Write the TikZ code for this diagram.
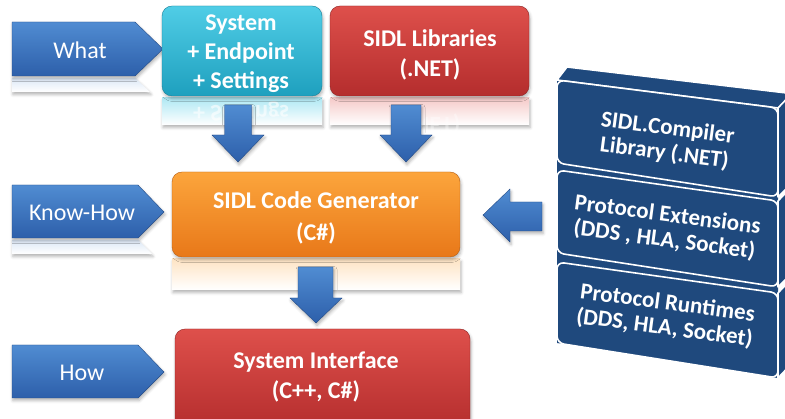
\documentclass[tikz,border=0pt]{standalone}
\usepackage{fontspec}
\setmainfont{Carlito}
\usetikzlibrary{shadows.blur}
\definecolor{navy}{RGB}{31,73,125}
\definecolor{arrowtop}{RGB}{80,140,210}
\definecolor{arrowbot}{RGB}{45,95,170}
\definecolor{cyantop}{RGB}{80,205,230}
\definecolor{cyanbot}{RGB}{30,160,190}
\definecolor{redtop}{RGB}{222,80,75}
\definecolor{redbot}{RGB}{180,45,45}
\definecolor{orangetop}{RGB}{252,165,60}
\definecolor{orangebot}{RGB}{232,120,25}
\tikzset{
  x=1pt, y=-1pt,
  shade/.style={blur shadow={shadow xshift=1pt, shadow yshift=-2.5pt, shadow blur radius=3pt, shadow opacity=30}},
  bluearrow/.style={top color=arrowtop, bottom color=arrowbot, draw=arrowbot!80!black, line width=0.4pt, shade},
  tag/.style={font=\fontsize{24}{28}\selectfont, text=white},
  boxtext/.style={font=\bfseries\fontsize{24}{30}\selectfont, text=white, align=center},
  cyanbox/.style={rounded corners=10pt, top color=cyantop, bottom color=cyanbot, draw=cyanbot!80!black, line width=0.4pt, shade},
  redbox/.style={rounded corners=10pt, top color=redtop, bottom color=redbot, draw=redbot!80!black, line width=0.4pt, shade},
  orangebox/.style={rounded corners=10pt, top color=orangetop, bottom color=orangebot, draw=orangebot!80!black, line width=0.4pt, shade},
  mirror/.style={yscale=-1, opacity=0.6},
  block/.style={fill=navy, draw=white, line width=1.6pt, line join=round},
  stacktext/.style={font=\bfseries\fontsize{23}{25}\selectfont, text=white, align=center, rotate=-7.5, inner sep=0pt},
}
\begin{document}
\begin{tikzpicture}
\useasboundingbox (0,0) rectangle (785,419);
\clip (0,0) rectangle (785,419);

% --- reflections under the upper boxes and the tags
\shade[top color=cyantop!45, bottom color=white] (162,98) rectangle (322,125);
\node[boxtext, mirror, font=\bfseries\fontsize{24}{29}\selectfont] at (241,112) {+ Settings};
\shade[top color=redtop!30, bottom color=white] (330,98) rectangle (529,125);
\node[boxtext, mirror, opacity=0.35] at (430,125) {(.NET)};
\shade[top color=orangetop!30, bottom color=white] (172,259) rectangle (460,290);
\shade[top color=arrowtop!20, bottom color=white] (12,78) -- (135,78) -- (150,92) -- (12,92) -- cycle;
\shade[top color=arrowtop!20, bottom color=white] (12,240) -- (138,240) -- (152,254) -- (12,254) -- cycle;

% --- left-hand tags
\draw[bluearrow] (12,22) -- (135,22) -- (163,49) -- (135,76) -- (12,76) -- cycle;
\node[tag] (what) at (80,50) {What};
\draw[bluearrow] (12,185) -- (138,185) -- (164,212) -- (138,238) -- (12,238) -- cycle;
\node[tag] (knowhow) at (82,213) {Know-How};
\draw[bluearrow] (12,345) -- (138,345) -- (164,372) -- (138,398) -- (12,398) -- cycle;
\node[tag] (how) at (82,373) {How};

% --- boxes
\draw[cyanbox] (162,6) rectangle (322,96);
\node[boxtext, font=\bfseries\fontsize{24}{29}\selectfont] (system) at (241,54) {System\\+ Endpoint\\+ Settings};
\draw[redbox] (330,6) rectangle (529,96);
\node[boxtext] (libs) at (430,55) {SIDL Libraries\\(.NET)};
\draw[orangebox] (172,172) rectangle (460,257);
\node[boxtext, font=\bfseries\fontsize{24}{32}\selectfont] (gen) at (316,218) {SIDL Code Generator\\(C\#)};
\draw[redbox] (175,329) rectangle (470,430);
\node[boxtext] (iface) at (316,377) {System Interface\\(C++, C\#)};

% --- block arrows
\draw[bluearrow] (224.5,105) -- (251.5,105) -- (251.5,135) -- (264,135) -- (238,162) -- (212,135) -- (224.5,135) -- cycle;
\draw[bluearrow] (391,105) -- (421,105) -- (421,135) -- (432,135) -- (406,162) -- (380,135) -- (391,135) -- cycle;
\draw[bluearrow] (298,267) -- (333,267) -- (333,298) -- (342,298) -- (316,323) -- (290,298) -- (298,298) -- cycle;
\draw[bluearrow] (542,202) -- (542,231) -- (510,231) -- (510,242) -- (483,215) -- (510,189) -- (510,202) -- cycle;

% --- library stack
\begin{scope}[blur shadow={shadow xshift=2pt, shadow yshift=-3pt, shadow opacity=25}]
\fill[navy] (557,80) -- (778,108) -- (778,378) -- (557,343) -- cycle;
\end{scope}
\draw[block] (557,80) -- (567,67) -- (795,94) -- (778,108) -- cycle;
\draw[block] (778,108) -- (795,90) -- (795,180) -- (778,197) -- cycle;
\draw[block, rounded corners=7pt] (557,80) -- (778,108) -- (778,197) -- (557,163) -- cycle;
\draw[block] (778,201) -- (795,183) -- (795,270) -- (778,287) -- cycle;
\draw[block, rounded corners=7pt] (557,170) -- (778,201) -- (778,287) -- (557,253) -- cycle;
\draw[block] (778,293) -- (795,275) -- (795,360) -- (778,378) -- cycle;
\draw[block, rounded corners=7pt] (557,262) -- (778,293) -- (778,378) -- (557,343) -- cycle;
\node[stacktext] (compiler) at (666,141) {SIDL.Compiler\\Library (.NET)};
\node[stacktext] (ext) at (666,228) {Protocol Extensions\\(DDS , HLA, Socket)};
\node[stacktext] (rt) at (666,316) {Protocol Runtimes\\(DDS, HLA, Socket)};
\end{tikzpicture}
\end{document}
